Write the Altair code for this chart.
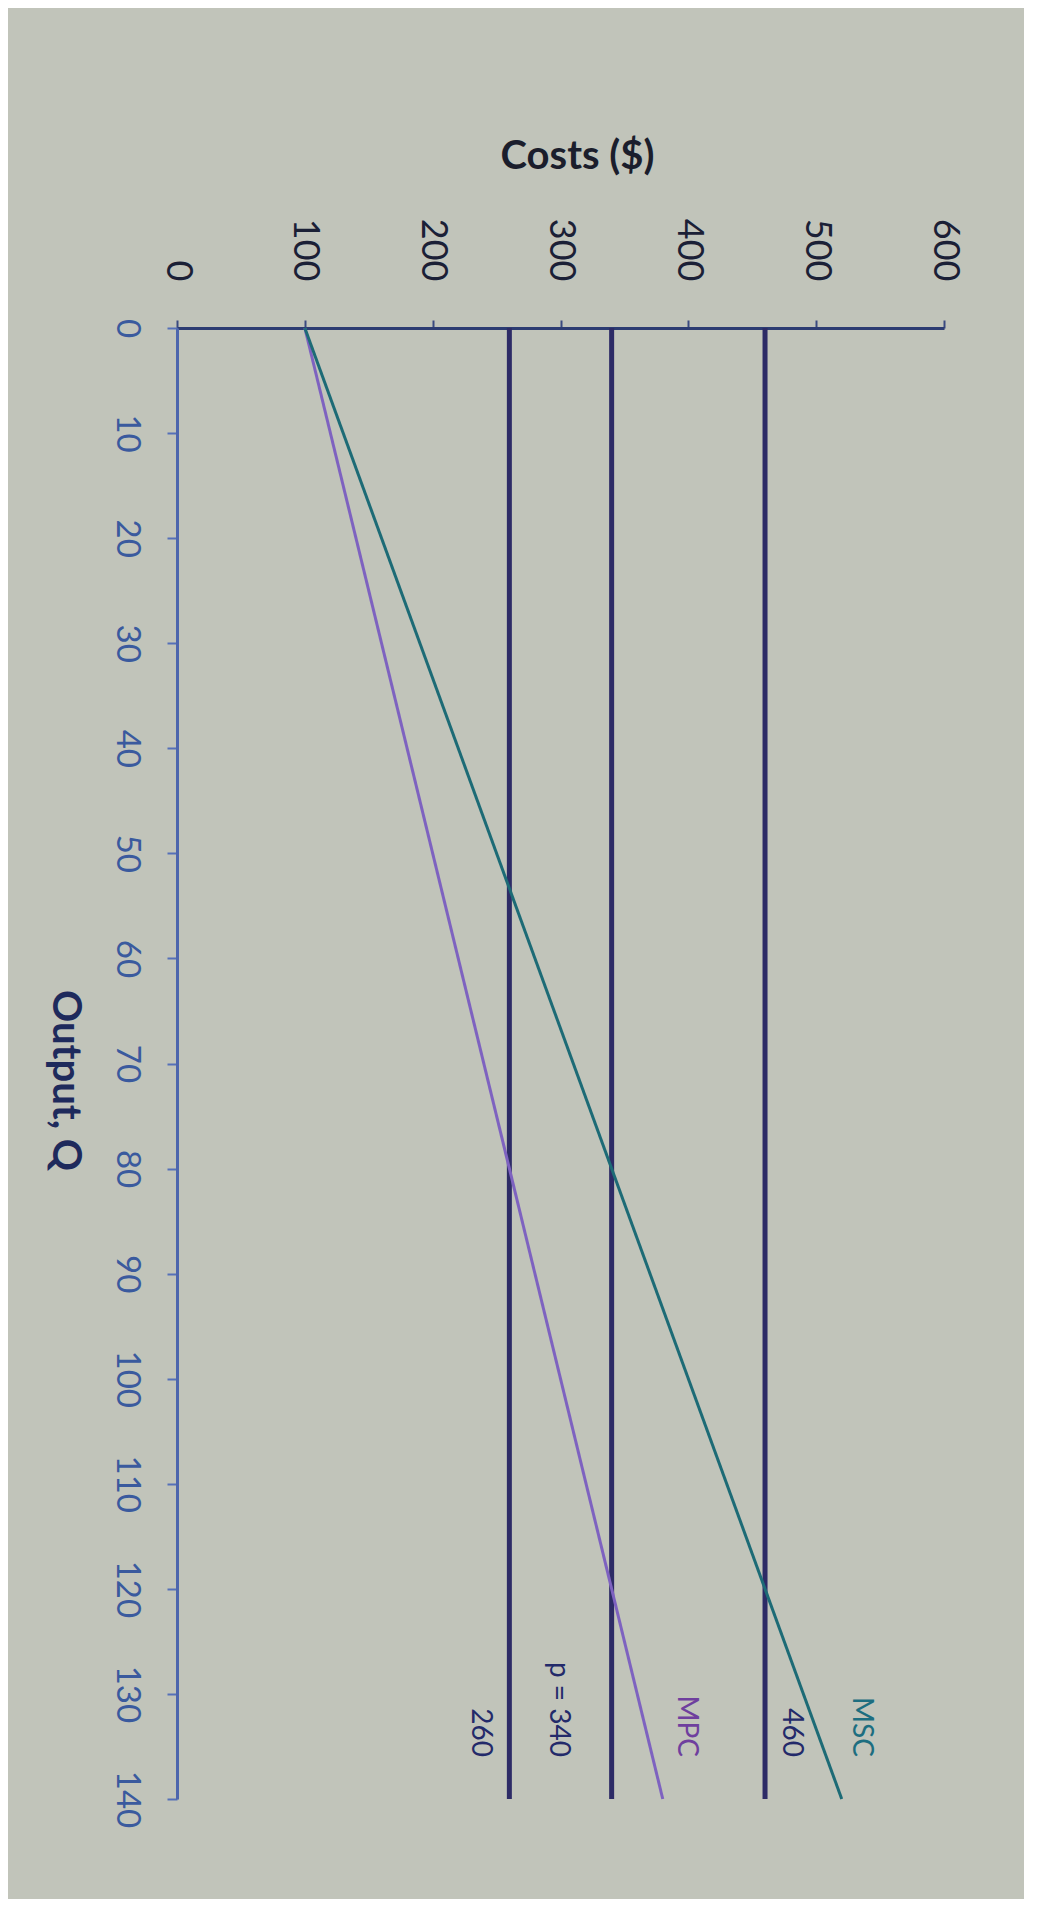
import altair as alt
import pandas as pd

# Output quantity endpoints and cost series
q_ends = [0, 140]
mpc_costs = [100, 380]
msc_costs = [100, 520]
flat_levels = [260, 340, 460]

cost_ticks = [0, 100, 200, 300, 400, 500, 600]
q_ticks = [0, 10, 20, 30, 40, 50, 60, 70, 80, 90, 100, 110, 120, 130, 140]

label_texts = ["MSC", "460", "MPC", "p = 340", "260"]
label_costs = [535, 480, 398, 298, 237]
label_q = [136, 136, 136, 136, 136]
label_colors = ["#1d6e80", "#232a6a", "#6f3f9e", "#232a6a", "#232a6a"]

rows = []
for name, vals in [("MPC", mpc_costs), ("MSC", msc_costs)]:
    for q, c in zip(q_ends, vals):
        rows.append({"series": name, "q": q, "cost": c})
curves = pd.DataFrame(rows)

flat = pd.DataFrame({"cost": flat_levels, "q0": [q_ends[0]] * 3, "q1": [q_ends[1]] * 3})
labels = pd.DataFrame({"text": label_texts, "cost": label_costs, "q": label_q, "color": label_colors})

x_scale = alt.Scale(domain=[0, 600], nice=False, zero=False)
y_scale = alt.Scale(domain=[0, 140], nice=False, zero=False, reverse=True)

x_axis = alt.Axis(
    orient="top", values=cost_ticks, grid=False,
    labelAngle=90, labelAlign="right", labelBaseline="middle",
    labelFlush=False, labelOverlap=False,
    labelFont="Lato", labelFontSize=36, labelColor="#1b2036", labelPadding=39,
    tickSize=8, tickWidth=2, tickColor="#3a4a80",
    domainColor="#2c3c72", domainWidth=3,
    title="Costs ($)", titleFont="Lato", titleFontSize=40, titleFontWeight="bold",
    titleColor="#1b1e2c", titleAngle=0, titleX=400, titleY=-172,
    titleAlign="center", titleBaseline="middle",
)
y_axis = alt.Axis(
    orient="left", values=q_ticks, grid=False,
    labelAngle=90, labelAlign="center", labelBaseline="top",
    labelFlush=False, labelOverlap=False,
    labelFont="Lato", labelFontSize=33, labelColor="#3a5a9e", labelPadding=25,
    tickSize=10, tickWidth=2, tickColor="#5570b8",
    domainColor="#4d66ad", domainWidth=3,
    title="Output, Q", titleFont="Lato", titleFontSize=40, titleFontWeight="bold",
    titleColor="#1e2a5c", titleAngle=90, titleX=-113, titleY=752,
    titleAlign="center", titleBaseline="middle",
)

flat_layer = alt.Chart(flat).mark_rule(color="#2d2b66", strokeWidth=5).encode(
    x=alt.X("cost:Q", scale=x_scale, axis=x_axis),
    y=alt.Y("q0:Q", scale=y_scale, axis=y_axis),
    y2="q1:Q",
)

curve_layer = alt.Chart(curves).mark_line(strokeWidth=3).encode(
    x=alt.X("cost:Q", scale=x_scale),
    y=alt.Y("q:Q", scale=y_scale),
    color=alt.Color("series:N", scale=alt.Scale(domain=["MPC", "MSC"], range=["#7e62c0", "#1d6b76"]), legend=None),
    order="q:Q",
)

label_layer = alt.Chart(labels).mark_text(
    angle=90, align="right", baseline="middle", font="Lato", fontSize=28
).encode(
    x=alt.X("cost:Q", scale=x_scale),
    y=alt.Y("q:Q", scale=y_scale),
    text="text:N",
    color=alt.Color("color:N", scale=None),
)

chart = alt.layer(flat_layer, curve_layer, label_layer).properties(
    width=767, height=1471,
    autosize=alt.AutoSizeParams(type="none"),
    padding={"left": 169, "top": 320, "right": 80, "bottom": 100},
    background="#c1c4ba",
).configure_view(stroke=None)

chart.save("out.html", embed_options={"renderer": "svg", "actions": False})
